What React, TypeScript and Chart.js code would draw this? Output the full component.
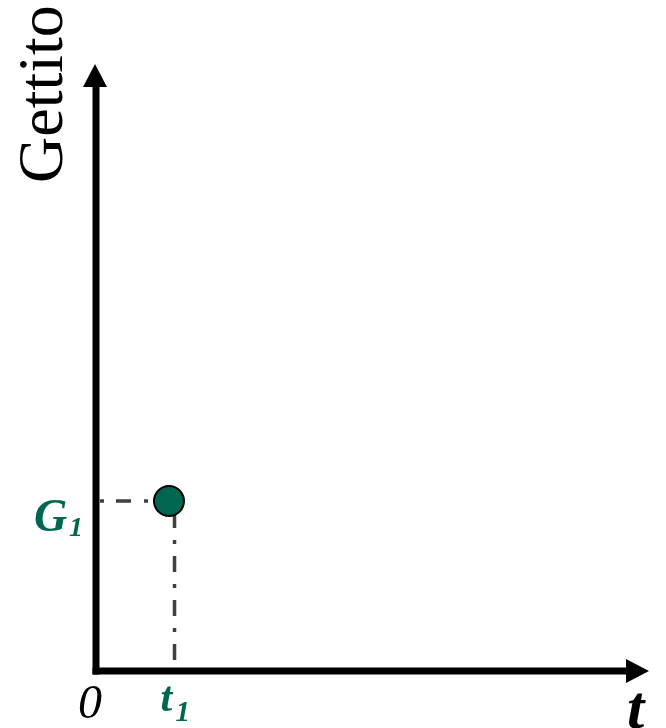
import React, { useEffect, useRef } from "react";
import { Chart, registerables } from "chart.js";

Chart.register(...registerables);

// ---- data ----
const xRange = [0, 100];
const yRange = [0, 100];
const pointT = [13.2];
const pointG = [28.0];
const guideT = [14.2];
const axisTitles = ["t", "Gettito"];
const markLabels = ["0", "t", "G"];
const subscripts = ["1"];

const GREEN = "#00664F";
const GUIDE = "#404040";

const axesPlugin = {
  id: "axesArrows",
  afterDatasetsDraw(chart: any) {
    const { ctx } = chart;
    const xs = chart.scales.x;
    const ys = chart.scales.y;
    const x0 = xs.getPixelForValue(xRange[0]);
    const x1 = xs.getPixelForValue(xRange[1]);
    const y0 = ys.getPixelForValue(yRange[0]);
    const y1 = ys.getPixelForValue(yRange[1]);
    const gx = xs.getPixelForValue(guideT[0]);
    const py = ys.getPixelForValue(pointG[0]);

    ctx.save();
    ctx.fillStyle = "#000";
    // y axis
    ctx.fillRect(x0 - 3.5, y1 + 22, 7, y0 + 3.5 - (y1 + 22));
    ctx.beginPath();
    ctx.moveTo(x0 - 1, y1);
    ctx.lineTo(x0 - 13, y1 + 23);
    ctx.lineTo(x0 + 11, y1 + 23);
    ctx.closePath();
    ctx.fill();
    // x axis
    ctx.fillRect(x0 - 3.5, y0 - 3.5, x1 - 21 - (x0 - 3.5), 7);
    ctx.beginPath();
    ctx.moveTo(x1, y0);
    ctx.lineTo(x1 - 23, y0 - 12);
    ctx.lineTo(x1 - 23, y0 + 12);
    ctx.closePath();
    ctx.fill();

    // Y axis title
    ctx.save();
    ctx.translate(62, y1 + 30);
    ctx.rotate(-Math.PI / 2);
    ctx.font = "64px 'Liberation Serif', serif";
    ctx.textAlign = "center";
    ctx.textBaseline = "alphabetic";
    ctx.fillStyle = "#000";
    ctx.fillText(axisTitles[1], 0, 0);
    ctx.restore();

    ctx.textBaseline = "alphabetic";
    ctx.textAlign = "left";
    // X axis title
    ctx.fillStyle = "#000";
    ctx.font = "bold italic 62px 'Liberation Serif', serif";
    ctx.fillText(axisTitles[0], x1 - 22, y0 + 57);

    // origin
    ctx.font = "italic 48px 'Liberation Serif', serif";
    ctx.textAlign = "center";
    ctx.fillText(markLabels[0], x0 - 6, y0 + 47);

    // t1
    ctx.fillStyle = GREEN;
    ctx.textAlign = "left";
    ctx.font = "bold italic 42px 'Liberation Serif', serif";
    ctx.fillText(markLabels[1], gx - 14, y0 + 40);
    ctx.font = "bold italic 29px 'Liberation Serif', serif";
    ctx.fillText(subscripts[0], gx + 1, y0 + 50);

    // G1
    ctx.font = "bold italic 46px 'Liberation Serif', serif";
    ctx.fillText(markLabels[2], x0 - 62, py + 30);
    ctx.font = "bold italic 28px 'Liberation Serif', serif";
    ctx.fillText(subscripts[0], x0 - 27, py + 35);
    ctx.restore();
  },
};

export default function App() {
  const ref = useRef<HTMLCanvasElement | null>(null);
  useEffect(() => {
    if (!ref.current) return;
    const chart = new Chart(ref.current, {
      type: "scatter",
      data: {
        datasets: [
          {
            type: "scatter",
            data: pointT.map((t, i) => ({ x: t, y: pointG[i] })),
            pointRadius: 15,
            pointHoverRadius: 15,
            pointBackgroundColor: GREEN,
            pointBorderColor: "#000",
            pointBorderWidth: 2,
            order: 0,
          } as any,
          {
            type: "line",
            data: [
              { x: xRange[0], y: pointG[0] },
              { x: pointT[0], y: pointG[0] },
            ],
            borderColor: GUIDE,
            borderWidth: 3.5,
            borderDash: [15, 13, 4, 12],
            borderDashOffset: 24,
            pointRadius: 0,
            fill: false,
            order: 1,
          } as any,
          {
            type: "line",
            data: [
              { x: guideT[0], y: pointG[0] },
              { x: guideT[0], y: yRange[0] },
            ],
            borderColor: GUIDE,
            borderWidth: 3.5,
            borderDash: [16, 12, 4, 12],
            borderDashOffset: 33,
            pointRadius: 0,
            fill: false,
            order: 1,
          } as any,
        ],
      },
      options: {
        animation: false,
        responsive: false,
        devicePixelRatio: 1,
        layout: { padding: { left: 96, right: 6, top: 64, bottom: 57 } },
        scales: {
          x: { type: "linear", min: xRange[0], max: xRange[1], display: false },
          y: { type: "linear", min: yRange[0], max: yRange[1], display: false },
        },
        plugins: {
          legend: { display: false },
          tooltip: { enabled: false },
        },
        events: [],
      },
      plugins: [axesPlugin],
    });
    return () => chart.destroy();
  }, []);
  return (
    <div style={{ position: "absolute", left: 0, top: 0, width: 666, height: 728, background: "#fff" }}>
      <canvas ref={ref} width={666} height={728} style={{ display: "block" }} />
    </div>
  );
}
